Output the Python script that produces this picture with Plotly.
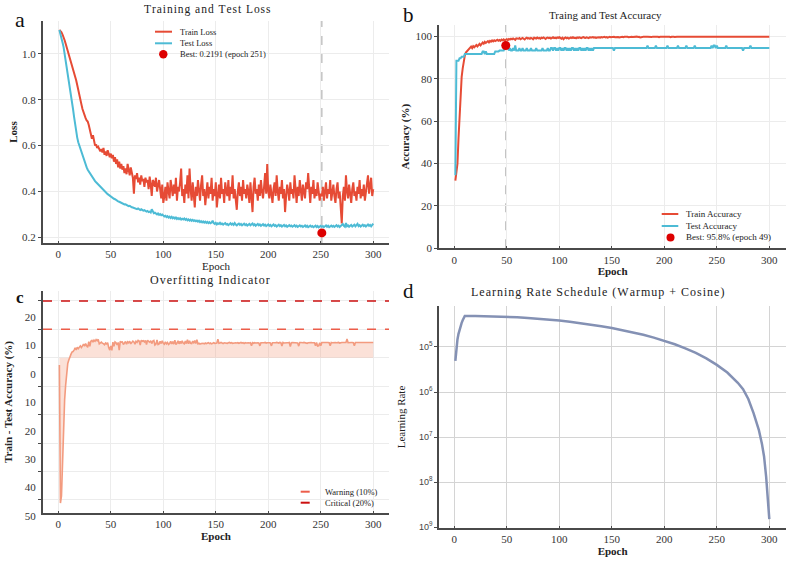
import plotly.graph_objects as go

# ---------------- data ----------------
epochs = list(range(1, 301))

train_loss = [
    1.105, 1.100, 1.095, 1.085, 1.075, 1.060, 1.045, 1.030, 1.015, 1.000,
    0.985, 0.970, 0.950, 0.935, 0.920, 0.900, 0.885, 0.865, 0.840, 0.815,
    0.800, 0.780, 0.760, 0.745, 0.725, 0.720, 0.710, 0.705, 0.690, 0.665,
    0.650, 0.630, 0.645, 0.615, 0.600, 0.605, 0.590, 0.595, 0.580, 0.575,
    0.585, 0.570, 0.590, 0.560, 0.575, 0.555, 0.580, 0.560, 0.550, 0.565,
    0.545, 0.560, 0.530, 0.550, 0.520, 0.540, 0.505, 0.530, 0.500, 0.520,
    0.495, 0.510, 0.480, 0.500, 0.475, 0.520, 0.490, 0.470, 0.505, 0.480,
    0.460, 0.390, 0.470, 0.455, 0.480, 0.440, 0.460, 0.430, 0.470, 0.445,
    0.455, 0.420, 0.460, 0.440, 0.450, 0.410, 0.465, 0.430, 0.380, 0.450,
    0.440, 0.420, 0.460, 0.400, 0.430, 0.450, 0.410, 0.370, 0.430, 0.350,
    0.38, 0.42, 0.36, 0.44, 0.40, 0.37, 0.45, 0.41, 0.38, 0.43,
    0.39, 0.46, 0.36, 0.42, 0.40, 0.44, 0.50, 0.38, 0.41, 0.35,
    0.43, 0.39, 0.47, 0.37, 0.50, 0.41, 0.36, 0.44, 0.39, 0.33,
    0.42, 0.38, 0.45, 0.40, 0.36, 0.43, 0.47, 0.38, 0.41, 0.34,
    0.40, 0.44, 0.37, 0.42, 0.39, 0.46, 0.36, 0.41, 0.38, 0.44,
    0.33, 0.40, 0.43, 0.37, 0.46, 0.39, 0.41, 0.35, 0.44, 0.40,
    0.38, 0.45, 0.36, 0.42, 0.39, 0.47, 0.37, 0.41, 0.34, 0.32,
    0.40, 0.44, 0.38, 0.42, 0.36, 0.45, 0.39, 0.41, 0.37, 0.43,
    0.40, 0.35, 0.44, 0.38, 0.31, 0.42, 0.46, 0.39, 0.41, 0.36,
    0.43, 0.38, 0.45, 0.40, 0.37, 0.42, 0.48, 0.39, 0.52, 0.40,
    0.37, 0.43, 0.39, 0.35, 0.41, 0.44, 0.38, 0.47, 0.40, 0.36,
    0.42, 0.39, 0.45, 0.37, 0.41, 0.31, 0.38, 0.43, 0.40, 0.36,
    0.44, 0.39, 0.41, 0.37, 0.47, 0.40, 0.35, 0.42, 0.38, 0.45,
    0.39, 0.36, 0.43, 0.40, 0.37, 0.44, 0.41, 0.48, 0.38, 0.35,
    0.42, 0.39, 0.45, 0.37, 0.41, 0.38, 0.44, 0.40, 0.36, 0.39,
    0.38, 0.42, 0.36, 0.40, 0.44, 0.37, 0.41, 0.39, 0.45, 0.36,
    0.40, 0.43, 0.38, 0.35, 0.41, 0.44, 0.37, 0.40, 0.33, 0.26,
    0.38, 0.42, 0.36, 0.47, 0.40, 0.37, 0.43, 0.39, 0.35, 0.41,
    0.44, 0.38, 0.40, 0.36, 0.42, 0.39, 0.45, 0.37, 0.41, 0.38,
    0.43, 0.36, 0.40, 0.44, 0.47, 0.39, 0.42, 0.46, 0.38, 0.41,
]

test_loss = [
    1.105, 1.090, 1.070, 1.050, 1.030, 1.000, 0.980, 0.960, 0.930, 0.900,
    0.865, 0.830, 0.795, 0.760, 0.725, 0.690, 0.660, 0.635, 0.615, 0.600,
    0.585, 0.570, 0.555, 0.540, 0.525, 0.515, 0.505, 0.495, 0.487, 0.480,
    0.472, 0.465, 0.458, 0.452, 0.445, 0.440, 0.435, 0.430, 0.425, 0.420,
    0.414, 0.410, 0.405, 0.400, 0.396, 0.392, 0.388, 0.385, 0.381, 0.378,
    0.375, 0.372, 0.368, 0.366, 0.362, 0.360, 0.357, 0.355, 0.352, 0.350,
    0.348, 0.346, 0.343, 0.344, 0.340, 0.338, 0.336, 0.337, 0.333, 0.331,
    0.330, 0.328, 0.329, 0.325, 0.323, 0.326, 0.321, 0.319, 0.322, 0.317,
    0.316, 0.318, 0.314, 0.312, 0.315, 0.310, 0.312, 0.308, 0.322, 0.309,
    0.305, 0.307, 0.303, 0.300, 0.304, 0.298, 0.301, 0.296, 0.299, 0.293,
    0.291, 0.294, 0.288, 0.292, 0.286, 0.290, 0.284, 0.289, 0.283, 0.287,
    0.282, 0.286, 0.280, 0.284, 0.279, 0.283, 0.277, 0.281, 0.278, 0.282,
    0.276, 0.280, 0.274, 0.278, 0.273, 0.277, 0.272, 0.276, 0.271, 0.274,
    0.270, 0.273, 0.268, 0.272, 0.266, 0.270, 0.265, 0.269, 0.264, 0.268,
    0.263, 0.267, 0.262, 0.266, 0.261, 0.264, 0.272, 0.262, 0.258, 0.263,
    0.256, 0.261, 0.258, 0.263, 0.257, 0.260, 0.255, 0.259, 0.262, 0.256,
    0.258, 0.253, 0.257, 0.261, 0.255, 0.259, 0.254, 0.262, 0.256, 0.252,
    0.257, 0.260, 0.254, 0.258, 0.252, 0.256, 0.259, 0.253, 0.257, 0.251,
    0.255, 0.258, 0.252, 0.256, 0.260, 0.253, 0.257, 0.250, 0.254, 0.258,
    0.252, 0.256, 0.250, 0.254, 0.257, 0.251, 0.255, 0.249, 0.253, 0.256,
    0.250, 0.254, 0.248, 0.252, 0.256, 0.250, 0.253, 0.247, 0.251, 0.255,
    0.249, 0.253, 0.247, 0.251, 0.254, 0.248, 0.252, 0.246, 0.250, 0.253,
    0.248, 0.251, 0.246, 0.250, 0.253, 0.247, 0.251, 0.245, 0.249, 0.252,
    0.247, 0.250, 0.245, 0.249, 0.252, 0.246, 0.250, 0.244, 0.248, 0.251,
    0.246, 0.249, 0.244, 0.248, 0.251, 0.245, 0.249, 0.243, 0.247, 0.250,
    0.245, 0.249, 0.244, 0.248, 0.252, 0.246, 0.250, 0.244, 0.248, 0.251,
    0.246, 0.250, 0.245, 0.249, 0.253, 0.247, 0.251, 0.245, 0.249, 0.252,
    0.258, 0.250, 0.246, 0.262, 0.248, 0.252, 0.246, 0.250, 0.254, 0.247,
    0.251, 0.255, 0.248, 0.252, 0.259, 0.249, 0.253, 0.247, 0.251, 0.255,
    0.249, 0.253, 0.247, 0.251, 0.256, 0.250, 0.254, 0.248, 0.252, 0.260,
]

train_acc = [
    32.0, 37.5, 40.0, 52.0, 64.0, 75.0, 81.0, 85.0, 88.5, 91.0,
    92.5, 93.0, 93.8, 94.0, 94.5, 95.3, 94.6, 95.5, 95.0, 95.8,
    96.0, 95.4, 96.3, 96.6, 95.9, 96.8, 97.2, 96.7, 97.5, 97.0,
    97.6, 97.9, 97.3, 98.0, 97.6, 98.2, 97.8, 98.3, 97.9, 98.2,
    98.5, 98.1, 98.4, 98.0, 98.6, 98.3, 98.7, 98.2, 98.5, 98.8,
    98.4, 98.9, 98.6, 99.0, 98.7, 99.1, 98.8, 98.5, 99.2, 98.9,
    99.0, 99.3, 98.8, 99.1, 99.4, 99.0, 98.7, 99.2, 99.5, 99.1,
    99.3, 99.0, 99.4, 99.2, 98.8, 99.5, 99.3, 99.1, 99.6, 99.2,
    99.4, 99.0, 99.5, 99.3, 99.6, 99.2, 98.9, 99.4, 99.6, 99.3,
    99.5, 99.1, 99.4, 99.7, 99.3, 99.5, 99.2, 99.6, 99.4, 99.7,
    99.4, 99.0, 99.5, 98.8, 99.3, 99.6, 99.2, 99.5, 99.1, 99.4,
    99.6, 99.3, 99.7, 99.4, 99.5, 99.2, 99.6, 99.4, 99.7, 99.5,
    99.3, 99.6, 99.8, 99.5, 99.4, 99.7, 99.6, 99.3, 99.7, 99.5,
    99.6, 99.8, 99.5, 99.7, 99.4, 99.6, 99.8, 99.7, 99.5, 99.8,
    99.6, 99.7, 99.9, 99.6, 99.8, 99.5, 99.7, 99.9, 99.7, 99.8,
    99.8, 99.9, 99.7, 99.8, 100.0, 99.8, 99.6, 99.9, 99.8, 99.9,
    99.7, 99.9, 100.0, 99.8, 99.9, 99.7, 99.8, 100.0, 99.9, 99.8,
    99.9, 99.7, 99.9, 100.0, 99.8, 99.9, 99.6, 99.9, 99.8, 100.0,
    99.9, 99.8, 99.9, 100.0, 99.9, 99.7, 99.9, 99.8, 100.0, 99.9,
    99.8, 100.0, 99.9, 99.9, 99.7, 99.9, 100.0, 99.8, 99.9, 100.0,
    99.9, 99.8, 100.0, 99.9, 99.9, 99.7, 99.9, 100.0, 99.9, 99.8,
    100.0, 99.9, 99.9, 100.0, 99.8, 99.9, 100.0, 99.9, 99.9, 100.0,
    99.8, 99.9, 100.0, 100.0, 99.9, 99.9, 100.0, 99.8, 99.9, 100.0,
    100.0, 99.9, 99.9, 100.0, 99.9, 100.0, 99.7, 99.9, 100.0, 99.9,
    100.0, 99.9, 100.0, 99.9, 100.0, 100.0, 99.9, 100.0, 99.9, 100.0,
    100.0, 99.9, 100.0, 100.0, 99.9, 100.0, 100.0, 99.9, 100.0, 100.0,
    99.9, 100.0, 100.0, 100.0, 99.9, 100.0, 100.0, 99.8, 100.0, 100.0,
    100.0, 99.9, 100.0, 100.0, 100.0, 99.9, 100.0, 100.0, 100.0, 100.0,
    99.9, 100.0, 100.0, 100.0, 100.0, 99.9, 100.0, 100.0, 100.0, 100.0,
    100.0, 100.0, 99.9, 100.0, 100.0, 100.0, 100.0, 100.0, 100.0, 100.0,
]

test_acc = [
    34.5, 88.6, 88.6, 88.6, 89.8, 89.8, 90.5, 90.5, 90.5, 91.8,
    91.8, 91.8, 91.8, 91.8, 91.8, 91.8, 91.8, 91.8, 91.8, 91.8,
    91.8, 91.8, 91.8, 91.8, 91.8, 91.8, 93.0, 93.0, 91.8, 93.0,
    91.8, 91.8, 91.8, 91.8, 91.8, 91.8, 91.8, 91.8, 93.0, 93.0,
    93.0, 93.0, 93.4, 93.4, 93.4, 93.4, 93.4, 94.6, 95.8, 94.6,
    95.8, 93.4, 94.6, 93.4, 93.4, 94.6, 93.4, 95.8, 93.4, 93.4,
    93.4, 94.6, 93.4, 93.4, 94.6, 93.4, 93.4, 93.4, 94.6, 93.4,
    93.4, 93.4, 94.6, 93.4, 93.4, 93.4, 93.4, 94.6, 93.4, 93.4,
    93.4, 93.4, 93.4, 94.6, 93.4, 93.4, 93.4, 93.4, 94.6, 93.4,
    93.4, 94.6, 94.6, 93.4, 94.6, 94.6, 93.4, 94.6, 93.4, 94.6,
    94.6, 93.4, 94.6, 93.4, 94.6, 94.6, 93.4, 94.6, 93.4, 94.6,
    93.4, 94.6, 94.6, 93.4, 94.6, 93.4, 94.6, 93.4, 94.6, 94.6,
    93.4, 94.6, 93.4, 94.6, 93.4, 94.6, 94.6, 93.4, 94.6, 93.4,
    94.6, 93.4, 94.6, 94.6, 94.6, 94.6, 94.6, 94.6, 94.6, 94.6,
    94.6, 94.6, 94.6, 94.6, 94.6, 94.6, 94.6, 94.6, 94.6, 94.6,
    94.6, 93.4, 94.6, 94.6, 94.6, 94.6, 94.6, 94.6, 94.6, 94.6,
    94.6, 94.6, 94.6, 94.6, 94.6, 94.6, 94.6, 94.6, 94.6, 94.6,
    94.6, 94.6, 94.6, 94.6, 94.6, 94.6, 94.6, 94.6, 94.6, 94.6,
    94.6, 94.6, 94.6, 95.8, 94.6, 94.6, 94.6, 94.6, 94.6, 94.6,
    94.6, 95.8, 94.6, 94.6, 94.6, 94.6, 94.6, 94.6, 94.6, 94.6,
    94.6, 94.6, 95.8, 94.6, 94.6, 94.6, 94.6, 94.6, 94.6, 94.6,
    94.6, 94.6, 95.8, 94.6, 94.6, 94.6, 94.6, 94.6, 94.6, 94.6,
    95.8, 94.6, 94.6, 94.6, 94.6, 94.6, 94.6, 94.6, 95.8, 94.6,
    94.6, 94.6, 94.6, 94.6, 94.6, 94.6, 94.6, 94.6, 94.6, 94.6,
    94.6, 94.6, 94.6, 94.6, 95.8, 94.6, 95.8, 95.8, 94.6, 95.8,
    94.6, 94.6, 94.6, 94.6, 94.6, 94.6, 94.6, 94.6, 95.8, 94.6,
    94.6, 94.6, 94.6, 94.6, 94.6, 94.6, 94.6, 94.6, 94.6, 94.6,
    94.6, 94.6, 94.6, 94.6, 93.4, 94.6, 94.6, 94.6, 94.6, 94.6,
    94.6, 95.8, 94.6, 94.6, 94.6, 94.6, 94.6, 94.6, 94.6, 94.6,
    94.6, 94.6, 94.6, 94.6, 94.6, 94.6, 94.6, 94.6, 94.6, 94.6,
]

best_loss_epoch = [251]
best_loss_value = [0.2191]
best_acc_epoch = [49]
best_acc_value = [95.8]

warning_level = 10
critical_level = 20

lr_epochs = [1, 2, 3, 4, 5, 6, 7, 8, 9, 10,
             20, 30, 40, 50, 60, 70, 80, 90, 100, 110,
             120, 130, 140, 150, 160, 170, 180, 190, 200, 210,
             220, 230, 240, 250, 260, 270, 275, 280, 285, 290,
             293, 295, 297, 298, 299, 300]
lr_values = [4.9e-6, 9.8e-6, 1.47e-5, 1.96e-5, 2.45e-5, 2.94e-5, 3.43e-5, 3.92e-5, 4.41e-5, 4.9e-5,
             4.89e-5, 4.85e-5, 4.78e-5, 4.68e-5, 4.56e-5, 4.42e-5, 4.26e-5, 4.07e-5, 3.86e-5, 3.63e-5,
             3.39e-5, 3.14e-5, 2.89e-5, 2.64e-5, 2.38e-5, 2.12e-5, 1.86e-5, 1.61e-5, 1.38e-5, 1.15e-5,
             9.3e-6, 7.4e-6, 5.6e-6, 4.0e-6, 2.7e-6, 1.6e-6, 1.15e-6, 7.0e-7, 3.4e-7, 1.45e-7,
             7.0e-8, 3.7e-8, 1.3e-8, 6.5e-9, 3.5e-9, 1.5e-9]

x_ticks = [0, 50, 100, 150, 200, 250, 300]
loss_ticks = [0.2, 0.4, 0.6, 0.8, 1.0]
loss_labels = ["0.2", "0.4", "0.6", "0.8", "1.0"]
acc_ticks = [0, 20, 40, 60, 80, 100]
gap_ticks = [20, 10, 0, -10, -20, -30, -40, -50]
gap_labels = ["20", "10", "0", "10", "20", "30", "40", "50"]
lr_ticks = [1e-9, 1e-8, 1e-7, 1e-6, 1e-5]
lr_labels = ["10<sup>9</sup>", "10<sup>8</sup>", "10<sup>7</sup>", "10<sup>6</sup>", "10<sup>5</sup>"]

gap = [tr - te for tr, te in zip(train_acc, test_acc)]
zero_line = [0 for _ in epochs]

# ---------------- style ----------------
W, H = 791, 562
SERIF = "Liberation Serif"
SANS = "Liberation Sans"
RED = "#E64B35"
CYAN = "#4DBBD5"
DOT = "#DD0000"
SALMON = "#F39B7F"
WARN = "#EC5D4A"
CRIT = "#CC1010"
LRC = "#8491B4"
SPINE = "#4a4a4a"
GRID = "#ececec"
TXT = "#333333"


def px(x):
    return x / W


def py(y):
    return 1 - y / H


def spaced(s):
    return "\u200a".join(s)


fig = go.Figure()

# panel a
fig.add_trace(go.Scatter(x=epochs, y=train_loss, mode="lines", line=dict(color=RED, width=2),
                         name="Train Loss", xaxis="x", yaxis="y", showlegend=False))
fig.add_trace(go.Scatter(x=epochs, y=test_loss, mode="lines", line=dict(color=CYAN, width=2),
                         name="Test Loss", xaxis="x", yaxis="y", showlegend=False))
fig.add_trace(go.Scatter(x=best_loss_epoch, y=best_loss_value, mode="markers",
                         marker=dict(color=DOT, size=9), name="Best", xaxis="x", yaxis="y",
                         showlegend=False))
# panel b
fig.add_trace(go.Scatter(x=epochs, y=train_acc, mode="lines", line=dict(color=RED, width=2),
                         name="Train Accuracy", xaxis="x2", yaxis="y2", showlegend=False))
fig.add_trace(go.Scatter(x=epochs, y=test_acc, mode="lines", line=dict(color=CYAN, width=2),
                         name="Test Accuracy", xaxis="x2", yaxis="y2", showlegend=False))
fig.add_trace(go.Scatter(x=best_acc_epoch, y=best_acc_value, mode="markers",
                         marker=dict(color=DOT, size=9), name="Best", xaxis="x2", yaxis="y2",
                         showlegend=False))
# panel c
fig.add_trace(go.Scatter(x=epochs, y=zero_line, mode="lines", line=dict(width=0, color=SALMON),
                         xaxis="x3", yaxis="y3", showlegend=False, hoverinfo="skip"))
fig.add_trace(go.Scatter(x=epochs, y=gap, mode="lines", line=dict(color=SALMON, width=1.6),
                         fill="tonexty", fillcolor="rgba(243,155,127,0.3)",
                         xaxis="x3", yaxis="y3", showlegend=False))
# panel d
fig.add_trace(go.Scatter(x=lr_epochs, y=lr_values, mode="lines", line=dict(color=LRC, width=2.5),
                         xaxis="x4", yaxis="y4", showlegend=False))


def xaxis(domain, anchor, rng, title, bold, standoff, gridcolor=GRID):
    t = "<b>%s</b>" % title if bold else title
    return dict(domain=domain, anchor=anchor, range=rng, tickvals=x_ticks,
                showline=True, linecolor=SPINE, linewidth=2, ticks="inside", ticklen=2,
                tickcolor=SPINE, showgrid=True, gridcolor=gridcolor, gridwidth=1, zeroline=False,
                tickfont=dict(family=SERIF, size=11, color=TXT), automargin=False,
                title=dict(text=t, font=dict(family=SERIF, size=11, color="#222"), standoff=standoff))


def yaxis(domain, anchor, rng, tickvals, title, bold, standoff, size=11, gridcolor=GRID, **kw):
    t = "<b>%s</b>" % title if bold else title
    d = dict(domain=domain, anchor=anchor, range=rng, tickvals=tickvals,
             showline=True, linecolor=SPINE, linewidth=2, ticks="outside", ticklen=3,
             tickcolor=SPINE, showgrid=True, gridcolor=gridcolor, gridwidth=1, zeroline=False,
             tickfont=dict(family=SERIF, size=11, color=TXT), automargin=False,
             title=dict(text=t, font=dict(family=SERIF, size=size, color="#222"), standoff=standoff))
    d.update(kw)
    return d


xa = [px(43), px(389)]
xb = [px(439.3), px(786)]
fig.update_layout(
    width=W, height=H, margin=dict(l=0, r=0, t=0, b=0),
    paper_bgcolor="white", plot_bgcolor="white", showlegend=False,
    xaxis=xaxis(xa, "y", [-14.6, 315], "Epoch", False, 0),
    yaxis=yaxis([py(243), py(21)], "x", [0.175, 1.144], loss_ticks, "Loss", True, 2,
                ticktext=loss_labels),
    xaxis2=xaxis(xb, "y2", [-14.3, 315.9], "Epoch", True, 2),
    yaxis2=yaxis([py(248.3), py(25)], "x2", [0, 105.5], acc_ticks, "Accuracy (%)", True, 4),
    xaxis3=xaxis(xa, "y3", [-14.6, 315], "Epoch", True, 1),
    yaxis3=yaxis([py(513), py(291)], "x3", [-54.6, 23.5], gap_ticks,
                 "Train - Test Accuracy (%)", True, 10, ticktext=gap_labels, ticklabelshift=16),
    xaxis4=xaxis(xb, "y4", [-14.3, 315.9], "Epoch", True, 0, gridcolor="#d4d4d4"),
    yaxis4=yaxis([py(528), py(306)], "x4", [-9.02, -4.09], lr_ticks, "Learning Rate", False, 11,
                 gridcolor="#d4d4d4", type="log", ticktext=lr_labels,
                 tickfont=dict(family=SANS, size=9, color="#444")),
)

shapes = []
# best-epoch markers (vertical dashed)
shapes.append(dict(type="line", xref="x", yref="y domain", x0=best_loss_epoch[0], x1=best_loss_epoch[0],
                   y0=0, y1=1, line=dict(color="#c4c4c4", width=1.5, dash="dash"), layer="below"))
shapes.append(dict(type="line", xref="x2", yref="y2 domain", x0=best_acc_epoch[0], x1=best_acc_epoch[0],
                   y0=0, y1=1, line=dict(color="#c4c4c4", width=1.5, dash="dash"), layer="below"))
# thresholds
shapes.append(dict(type="line", xref="x3 domain", yref="y3", x0=0, x1=1, y0=warning_level,
                   y1=warning_level, line=dict(color=WARN, width=1.5, dash="dash"), layer="above"))
shapes.append(dict(type="line", xref="x3 domain", yref="y3", x0=0, x1=1, y0=critical_level,
                   y1=critical_level, line=dict(color=CRIT, width=1.5, dash="dash"), layer="above"))

annotations = []


def leg_line(x0, x1, y, color, dash="solid"):
    shapes.append(dict(type="line", xref="paper", yref="paper", x0=px(x0), x1=px(x1), y0=py(y), y1=py(y),
                       line=dict(color=color, width=2, dash=dash)))


def leg_dot(x, y, r, color):
    shapes.append(dict(type="circle", xref="paper", yref="paper", x0=px(x - r), x1=px(x + r),
                       y0=py(y + r), y1=py(y - r), fillcolor=color, line=dict(width=0)))


def text(x, y, s, size, xanchor="left", bold=False, family=SERIF, color="#222"):
    annotations.append(dict(xref="paper", yref="paper", x=px(x), y=py(y), text=("<b>%s</b>" % s) if bold else s,
                            showarrow=False, xanchor=xanchor, yanchor="middle",
                            font=dict(family=family, size=size, color=color)))


# legend a
leg_line(155, 172, 31.7, RED)
leg_line(155, 172, 43.3, CYAN)
leg_dot(163.3, 54.3, 4.2, DOT)
text(178, 31.7, "Train Loss", 8.5)
text(178, 43.3, "Test Loss", 8.5)
text(178, 54.3, "Best: 0.2191 (epoch 251)", 8.5)
# legend b
leg_line(661.7, 678.3, 214, RED)
leg_line(661.7, 678.3, 226, CYAN)
leg_dot(670.5, 237.5, 4.0, DOT)
text(684.3, 214, "Train Accuracy", 9)
text(684.3, 226, "Test Accuracy", 9)
text(684.3, 237.5, "Best: 95.8% (epoch 49)", 9)
# legend c
leg_line(300.7, 316.7, 491.7, WARN, "dash")
leg_line(300.7, 316.7, 502.7, CRIT, "dash")
text(323.3, 491.7, "Warning (10%)", 8.5)
text(323.3, 502.7, "Critical (20%)", 8.5)

# titles
text(207, 9.5, spaced("Training and Test Loss"), 11.5, "center")
text(605, 15, "Traing and Test Accuracy", 11, "center")
text(210, 280, spaced("Overfitting Indicator"), 12, "center")
text(597, 291.7, spaced("Learning Rate Schedule (Warmup + Cosine)"), 12, "center")

# panel letters
text(20, 20, "a", 22, "center", color="#111")
text(408.5, 15, "b", 21, "center", color="#111")
text(19.5, 297, "c", 17, "center", bold=True, color="#111")
text(408.5, 290.5, "d", 21, "center", color="#111")

fig.update_layout(shapes=shapes, annotations=annotations)
fig.write_html("out.html")
